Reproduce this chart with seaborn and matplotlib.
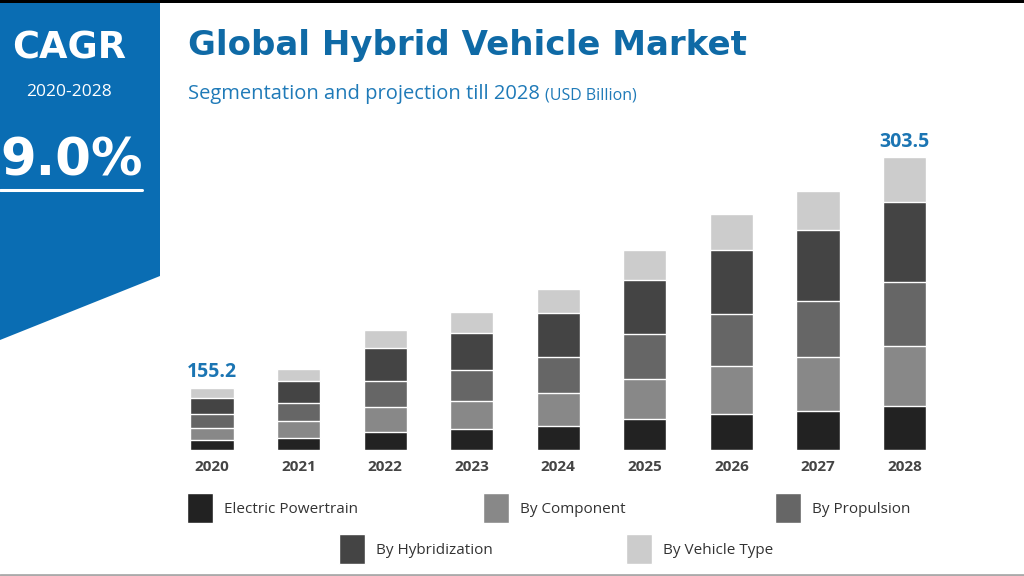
import matplotlib
matplotlib.use("Agg")
from matplotlib import pyplot as plt
from matplotlib.patches import Polygon, Rectangle
import pandas as pd
import seaborn as sns

# values (bar segments, drawn scale)
years = ['2020', '2021', '2022', '2023', '2024', '2025', '2026', '2027', '2028']
electric_powertrain = [10.1, 12.8, 19.0, 21.8, 25.2, 32.1, 37.3, 40.8, 45.9]
by_component = [12.4, 17.3, 25.9, 29.3, 34.2, 41.8, 49.8, 55.4, 61.9]
by_propulsion = [14.5, 18.4, 27.0, 31.8, 36.7, 46.0, 53.9, 58.7, 66.7]
by_hybridization = [17.2, 23.1, 33.6, 38.1, 45.6, 56.0, 66.4, 73.0, 83.0]
by_vehicle_type = [10.4, 12.4, 19.0, 21.8, 25.2, 31.4, 37.3, 40.8, 46.0]

segments = ['Electric Powertrain', 'By Component', 'By Propulsion',
            'By Hybridization', 'By Vehicle Type']
colors = ['#222222', '#888888', '#666666', '#444444', '#cccccc']

label_years = ['2020', '2028']
label_values = ['155.2', '303.5']
cagr_period = '2020-2028'
cagr_value = '9.0%'

df = pd.DataFrame({
    'Electric Powertrain': electric_powertrain,
    'By Component': by_component,
    'By Propulsion': by_propulsion,
    'By Hybridization': by_hybridization,
    'By Vehicle Type': by_vehicle_type,
}, index=years)
cum = df.cumsum(axis=1)

sns.set_style("white")
plt.rcParams['font.family'] = ['Open Sans', 'DejaVu Sans']
wide = ['DejaVu Sans']

fig = plt.figure(figsize=(10.24, 5.76), dpi=100)

# background layer in pixel coords
bg = fig.add_axes([0, 0, 1, 1])
bg.set_xlim(0, 1024)
bg.set_ylim(576, 0)
bg.axis('off')
bg.add_patch(Polygon([(0, 3), (160, 3), (160, 276), (0, 340)], closed=True,
                     color='#0a6db3', lw=0))
bg.add_patch(Rectangle((0, 0), 1024, 3, color='black', lw=0))
bg.plot([0, 1024], [574.5, 574.5], color='#aaaaaa', lw=2)

bg.text(69, 48, 'CAGR', color='white', fontsize=26.5, fontweight='bold',
        family=wide, ha='center', va='center')
bg.text(69, 92, cagr_period, color='white', fontsize=12.5, ha='center',
        va='center')
bg.text(143, 161, cagr_value, color='white', fontsize=37, fontweight='bold',
        family=wide, ha='right', va='center')
bg.plot([0, 142], [190, 190], color='white', lw=2.2)

bg.text(188, 45, 'Global Hybrid Vehicle Market', color='#0f6aa6', fontsize=24.5,
        fontweight='bold', family=wide, ha='left', va='center')
sub = bg.text(188, 94, 'Segmentation and projection till 2028', color='#1f7ab8',
              fontsize=14.5, ha='left', va='center')
bg.annotate('(USD Billion)', xy=(1, 0), xycoords=sub, xytext=(4, 0),
            textcoords='offset points', color='#1f7ab8', fontsize=11.5,
            ha='left', va='bottom')

# stacked bars: draw cumulative totals from the top segment down
ax = fig.add_axes([0.1648, 0.21875, 0.7608, 0.5358])
ax.patch.set_alpha(0)
handles = {}
for seg, col in reversed(list(zip(segments, colors))):
    sns.barplot(x=years, y=cum[seg].values, color=col, width=0.5,
                saturation=1, ax=ax, label=seg)
    handles[seg] = ax.containers[-1]

ax.set_xlim(-0.5, 8.5)
ax.set_ylim(0, 320)
ax.set_yticks([])
sns.despine(ax=ax, left=True, bottom=True)
ax.tick_params(axis='x', length=0, pad=7, labelsize=11, labelcolor='#444444')
for t in ax.get_xticklabels():
    t.set_fontweight('bold')
if ax.get_legend() is not None:
    ax.get_legend().remove()

for yr, val in zip(label_years, label_values):
    i = years.index(yr)
    ax.annotate(val, (i, cum.loc[yr].iloc[-1]), xytext=(0, 4),
                textcoords='offset points', ha='center', va='bottom',
                color='#1b75b3', fontsize=14, fontweight='bold')

# legend entries placed like the original two-row layout
legend_pos = [(187, 508), (483, 508), (775, 508), (339, 549), (626, 549)]
for seg, (px, py) in zip(segments, legend_pos):
    fig.legend(handles=[handles[seg]], labels=[seg], loc='center left',
               bbox_to_anchor=(px / 1024, 1 - py / 576), frameon=False,
               borderpad=0, borderaxespad=0, handlelength=1.7,
               handleheight=2.64, handletextpad=0.75, fontsize=11,
               labelcolor='#333333')

fig.savefig('out.png', dpi=100)
